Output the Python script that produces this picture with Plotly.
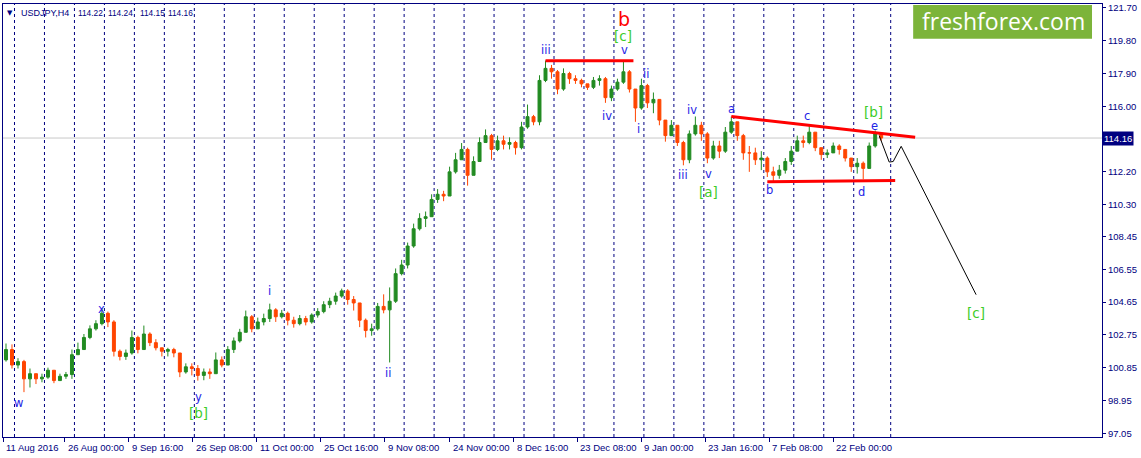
import plotly.graph_objects as go

# ---------------- data (one candle per trading day, positions in H4-bar units) ----------------
OPEN = [101.3, 101.9, 101.0, 101.2, 100.2, 100.5, 100.2, 100.3, 100.7, 100.1,
        100.35, 100.45, 101.6, 101.9, 102.6, 103.1, 103.4, 104.0, 103.5, 101.8,
        101.5, 101.7, 102.6, 101.9, 102.8, 102.3, 102.0, 101.8, 101.9, 101.7,
        100.6, 100.9, 100.8, 100.4, 100.6, 100.5, 101.3, 101.0, 101.9, 102.4,
        102.9, 103.8, 103.1, 103.5, 103.7, 104.2, 103.8, 104.0, 103.6, 103.4,
        103.7, 103.5, 103.9, 104.1, 104.5, 104.7, 105.0, 105.3, 104.8, 104.6,
        103.6, 103.0, 103.1, 104.4, 104.2, 104.7, 106.3, 106.8, 107.9, 108.9,
        109.5, 109.6, 110.6, 110.9, 110.8, 112.2, 112.9, 113.5, 112.0, 112.8,
        113.9, 114.3, 113.5, 114.0, 113.8, 113.9, 113.6, 114.8, 115.4, 115.1,
        117.5, 118.2, 118.0, 117.0, 117.9, 117.6, 117.5, 117.3, 117.1, 117.5,
        117.6, 116.5, 117.0, 117.4, 118.0, 117.0, 115.9, 117.2, 116.2, 116.4,
        115.2, 114.3, 114.9, 113.9, 112.9, 114.4, 114.9, 114.4, 113.0, 113.7,
        113.4, 114.5, 115.1, 114.3, 113.3, 113.3, 112.9, 113.0, 112.2, 112.0,
        112.3, 112.8, 113.4, 114.0, 113.9, 114.5, 113.6, 113.2, 113.3, 113.7,
        113.5, 113.0, 112.5, 112.7, 112.4, 113.7, 114.4]

HIGH = [102.25, 102.2, 101.4, 101.3, 100.8, 100.5, 100.5, 100.85, 100.7, 100.5,
        100.6, 101.9, 102.3, 102.8, 103.3, 103.6, 104.27, 104.1, 103.6, 101.9,
        101.9, 103.0, 102.7, 103.29, 102.9, 102.5, 102.0, 102.0, 102.0, 101.7,
        101.1, 101.1, 101.0, 100.8, 100.8, 101.73, 101.5, 102.1, 102.6, 103.1,
        104.16, 103.9, 103.75, 103.98, 104.56, 104.3, 104.2, 104.1, 103.8, 103.9,
        103.85, 104.0, 104.3, 104.7, 104.9, 105.2, 105.43, 105.4, 105.0, 104.6,
        103.7, 103.4, 104.6, 105.1, 105.5, 106.6, 107.1, 108.1, 109.2, 109.8,
        109.9, 110.9, 111.2, 111.1, 112.5, 113.3, 113.87, 113.6, 113.1, 114.2,
        114.66, 114.4, 114.3, 114.3, 114.2, 114.0, 115.1, 116.1, 115.5, 117.8,
        118.65, 118.4, 118.1, 118.2, 118.0, 117.8, 117.6, 117.3, 117.7, 117.8,
        117.7, 117.2, 117.6, 118.64, 118.1, 117.0, 117.6, 117.3, 116.8, 116.4,
        115.2, 115.2, 114.9, 114.0, 114.6, 115.41, 115.1, 114.5, 114.0, 114.0,
        114.8, 115.41, 115.1, 114.4, 113.7, 113.6, 113.4, 113.1, 112.5, 112.6,
        113.0, 113.7, 114.3, 114.3, 114.95, 114.5, 113.6, 113.5, 113.9, 113.8,
        113.5, 113.0, 113.0, 112.8, 113.9, 114.6, 114.45]

LOW = [101.2, 100.8, 100.8, 99.43, 99.7, 99.9, 100.0, 100.2, 99.95, 100.1,
       100.2, 100.2, 101.6, 101.9, 102.5, 103.0, 103.3, 103.2, 101.5, 101.27,
       101.3, 101.6, 101.68, 101.9, 102.1, 101.85, 101.5, 101.5, 101.45, 100.3,
       100.5, 100.4, 100.1, 100.12, 100.2, 100.5, 100.87, 101.0, 101.7, 102.3,
       102.9, 102.9, 103.1, 103.3, 103.5, 103.5, 103.7, 103.3, 103.17, 103.3,
       103.3, 103.4, 103.75, 104.0, 104.3, 104.5, 104.9, 104.5, 104.16, 103.2,
       102.6, 102.7, 103.0, 104.0, 101.15, 104.6, 106.2, 106.6, 107.8, 108.8,
       109.0, 109.6, 110.4, 110.5, 110.8, 112.1, 112.9, 111.4, 112.0, 112.8,
       113.9, 112.9, 113.4, 113.5, 113.5, 113.2, 113.5, 114.7, 114.9, 114.9,
       117.4, 117.6, 116.7, 116.9, 117.3, 117.3, 117.1, 116.95, 117.0, 117.2,
       116.2, 116.3, 116.9, 117.3, 116.8, 115.1, 115.8, 115.9, 115.6, 114.9,
       113.95, 114.3, 113.7, 112.58, 112.7, 114.3, 114.0, 112.7, 112.9, 113.0,
       113.3, 114.4, 114.0, 112.9, 112.2, 112.6, 112.3, 111.9, 111.66, 111.8,
       112.1, 112.6, 113.4, 113.6, 113.8, 113.4, 112.9, 113.0, 113.3, 113.2,
       112.8, 112.2, 112.1, 111.77, 112.4, 113.6, 114.0]

CLOSE = [101.9, 101.0, 101.2, 100.2, 100.5, 100.2, 100.3, 100.7, 100.1, 100.35,
         100.45, 101.6, 101.9, 102.6, 103.1, 103.4, 104.0, 103.5, 101.8, 101.5,
         101.7, 102.6, 101.9, 102.8, 102.3, 102.0, 101.8, 101.9, 101.7, 100.6,
         100.9, 100.8, 100.4, 100.6, 100.5, 101.3, 101.0, 101.9, 102.4, 102.9,
         103.8, 103.1, 103.5, 103.7, 104.2, 103.8, 104.0, 103.6, 103.4, 103.7,
         103.5, 103.9, 104.1, 104.5, 104.7, 105.0, 105.3, 104.8, 104.6, 103.6,
         103.0, 103.1, 104.4, 104.2, 104.7, 106.3, 106.8, 107.9, 108.9, 109.5,
         109.6, 110.6, 110.9, 110.8, 112.2, 112.9, 113.5, 112.0, 112.8, 113.9,
         114.3, 113.5, 114.0, 113.8, 113.9, 113.6, 114.8, 115.4, 115.1, 117.5,
         118.2, 118.0, 117.0, 117.9, 117.6, 117.5, 117.3, 117.1, 117.5, 117.6,
         116.5, 117.0, 117.4, 118.0, 117.0, 115.9, 117.2, 116.2, 116.4, 115.2,
         114.3, 114.9, 113.9, 112.9, 114.4, 114.9, 114.4, 113.0, 113.7, 113.4,
         114.5, 115.1, 114.3, 113.3, 113.3, 112.9, 113.0, 112.2, 112.0, 112.3,
         112.8, 113.4, 114.0, 113.9, 114.5, 113.6, 113.2, 113.3, 113.7, 113.5,
         113.0, 112.5, 112.7, 112.4, 113.7, 114.4, 114.16]

FIRST_BAR = 5          # bar position of the first daily candle
BARS_PER_CANDLE = 6    # six H4 bars per trading day

TICK_BARS = [2, 64, 128, 192, 256, 320, 384, 449, 513, 577, 641, 705, 769, 833]
TICK_LABELS = ["11 Aug 2016", "26 Aug 00:00", "9 Sep 16:00", "26 Sep 08:00",
               "11 Oct 00:00", "25 Oct 16:00", "9 Nov 08:00", "24 Nov 00:00",
               "8 Dec 16:00", "23 Dec 08:00", "9 Jan 00:00", "23 Jan 16:00",
               "7 Feb 08:00", "22 Feb 00:00"]
SEPARATOR_BARS = [13, 43, 73, 103, 133, 163, 193, 223, 253, 283, 313, 343, 373, 403,
                  433, 463, 493, 523, 553, 583, 613, 643, 673, 703, 733, 763, 793,
                  823, 853, 890]

PRICE_TICKS = [97.05, 98.95, 100.85, 102.75, 104.65, 106.55, 108.45, 110.30,
               112.20, 116.00, 117.90, 119.80, 121.70]
LAST_PRICE = 114.16
HEADER_SYMBOL = "USDJPY,H4"
HEADER_OHLC = ["114.22", "114.24", "114.15", "114.16"]
HEADER_OHLC_X = [75, 105, 137, 165]

# analysis lines (bar position, price)
TOP_LINE_X, TOP_LINE_Y = [545, 633], [118.64, 118.64]
UPPER_LINE_X, UPPER_LINE_Y = [731, 915], [115.41, 114.20]
LOWER_LINE_X, LOWER_LINE_Y = [767, 895], [111.62, 111.70]
FORECAST_X = [879, 889, 893, 901, 976]
FORECAST_Y = [114.30, 112.77, 112.80, 113.68, 105.08]

# wave labels: text, bar position, price, style
WAVE_LABELS = [
    ("w", 18, 98.79, "minor"), ("x", 101, 104.27, "minor"), ("y", 198, 99.14, "minor"),
    ("[b]", 198, 98.20, "major"), ("i", 269, 105.31, "minor"), ("ii", 387, 100.52, "minor"),
    ("iii", 545, 119.28, "minor"), ("iv", 607, 115.41, "minor"), ("v", 624, 119.28, "minor"),
    ("[c]", 623, 120.08, "major"), ("b", 624, 121.07, "top"),
    ("i", 638, 114.66, "minor"), ("ii", 646, 117.89, "minor"), ("iv", 692, 115.76, "minor"),
    ("iii", 683, 112.01, "minor"), ("v", 708, 112.06, "minor"), ("[a]", 708, 111.05, "major"),
    ("a", 731, 115.87, "minor"), ("b", 769, 111.14, "minor"), ("c", 807, 115.41, "minor"),
    ("d", 861, 111.02, "minor"), ("e", 874, 114.85, "minor"), ("[b]", 873, 115.68, "major"),
    ("[c]", 976, 104.04, "major"),
]

# ---------------- styling ----------------
NAVY = "#000080"
UP = "#228b22"
DOWN = "#ff4500"
SEP_OFFSET = 0.5   # puts 1-px separator lines on whole pixels
LABEL_STYLE = {
    "minor": dict(color="#2323e6", size=11.5, family="DejaVu Sans"),
    "major": dict(color="#3ccc28", size=13.5, family="DejaVu Sans"),
    "top": dict(color="#ff0000", size=19, family="DejaVu Sans"),
}
Y_RANGE = [96.83, 121.93]
X_RANGE = [2, 1102]
PLOT_TOP_PX, PLOT_BOTTOM_PX = 2, 437


def py_to_paper(py):
    return (PLOT_BOTTOM_PX - py) / (PLOT_BOTTOM_PX - PLOT_TOP_PX)


candle_x = [FIRST_BAR + BARS_PER_CANDLE * i for i in range(len(CLOSE))]

fig = go.Figure()

fig.add_trace(go.Candlestick(
    x=candle_x, open=OPEN, high=HIGH, low=LOW, close=CLOSE,
    increasing=dict(line=dict(color=UP, width=1), fillcolor=UP),
    decreasing=dict(line=dict(color=DOWN, width=1), fillcolor=DOWN),
    whiskerwidth=0, showlegend=False, hoverinfo="skip",
))

for xs, ys in [(TOP_LINE_X, TOP_LINE_Y), (UPPER_LINE_X, UPPER_LINE_Y), (LOWER_LINE_X, LOWER_LINE_Y)]:
    fig.add_trace(go.Scatter(x=xs, y=ys, mode="lines", line=dict(color="#ff0000", width=3),
                             showlegend=False, hoverinfo="skip"))

fig.add_trace(go.Scatter(x=FORECAST_X, y=FORECAST_Y, mode="lines",
                         line=dict(color="#000000", width=1), showlegend=False, hoverinfo="skip"))

shapes = []
for b in SEPARATOR_BARS:
    shapes.append(dict(type="line", xref="x", yref="paper", x0=b + SEP_OFFSET, x1=b + SEP_OFFSET,
                       y0=0, y1=1, line=dict(color=NAVY, width=1, dash="3px,3px"), layer="below"))
shapes.append(dict(type="line", xref="paper", yref="y", x0=0, x1=1, y0=LAST_PRICE, y1=LAST_PRICE,
                   line=dict(color="#c8c8c8", width=1), layer="below"))
shapes.append(dict(type="rect", xref="x", yref="paper", x0=913, x1=1092,
                   y0=py_to_paper(37), y1=py_to_paper(3), fillcolor="#7cb43a",
                   line=dict(width=0), layer="above"))

annotations = []
for txt, bx, pr, kind in WAVE_LABELS:
    annotations.append(dict(x=bx, y=pr, xref="x", yref="y", text=txt, showarrow=False,
                            font=LABEL_STYLE[kind], xanchor="center", yanchor="middle"))

for tb, tl in zip(TICK_BARS, TICK_LABELS):
    annotations.append(dict(x=tb + 1, y=0, xref="x", yref="paper", text=tl, showarrow=False,
                            xanchor="left", yanchor="middle", yshift=-10,
                            font=dict(color=NAVY, size=9.5, family="Liberation Sans")))

annotations.append(dict(x=1, y=LAST_PRICE, xref="paper", yref="y", text=f"{LAST_PRICE:.2f}",
                        showarrow=False, xanchor="left", yanchor="middle", bgcolor=NAVY,
                        borderpad=1, font=dict(color="white", size=9.5, family="Liberation Sans")))

annotations.append(dict(x=9, y=py_to_paper(11), xref="x", yref="paper", text="▼", showarrow=False,
                        xanchor="center", yanchor="middle",
                        font=dict(color=NAVY, size=7, family="DejaVu Sans")))
annotations.append(dict(x=18, y=py_to_paper(11), xref="x", yref="paper", text=HEADER_SYMBOL,
                        showarrow=False, xanchor="left", yanchor="middle",
                        font=dict(color=NAVY, size=9, family="Liberation Sans")))
for hx, ht in zip(HEADER_OHLC_X, HEADER_OHLC):
    annotations.append(dict(x=hx, y=py_to_paper(11), xref="x", yref="paper", text=ht,
                            showarrow=False, xanchor="left", yanchor="middle",
                            font=dict(color=NAVY, size=8.3, family="Liberation Sans")))

annotations.append(dict(x=1003, y=py_to_paper(19), xref="x", yref="paper", text="freshforex.com",
                        showarrow=False, xanchor="center", yanchor="middle",
                        font=dict(color="white", size=23, family="Open Sans")))

fig.update_layout(
    width=1141, height=458,
    margin=dict(l=2, r=39, t=2, b=21),
    paper_bgcolor="white", plot_bgcolor="white",
    font=dict(family="Liberation Sans", color=NAVY, size=9.5),
    shapes=shapes, annotations=annotations,
    showlegend=False,
    xaxis=dict(range=X_RANGE, type="linear", showgrid=False, zeroline=False,
               showline=True, linecolor=NAVY, linewidth=1, mirror=True,
               ticks="outside", ticklen=4, tickcolor=NAVY, tickvals=TICK_BARS,
               showticklabels=False, rangeslider=dict(visible=False), fixedrange=True),
    yaxis=dict(range=Y_RANGE, side="right", showgrid=False, zeroline=False,
               showline=True, linecolor=NAVY, linewidth=1, mirror=True,
               ticks="outside", ticklen=3, tickcolor=NAVY,
               tickvals=PRICE_TICKS, ticktext=[f"{v:.2f}" for v in PRICE_TICKS],
               tickfont=dict(color=NAVY, size=9.5, family="Liberation Sans"), fixedrange=True),
)

fig.write_html("out.html", post_script="document.body.style.margin='0';",
               config={"displayModeBar": False})
